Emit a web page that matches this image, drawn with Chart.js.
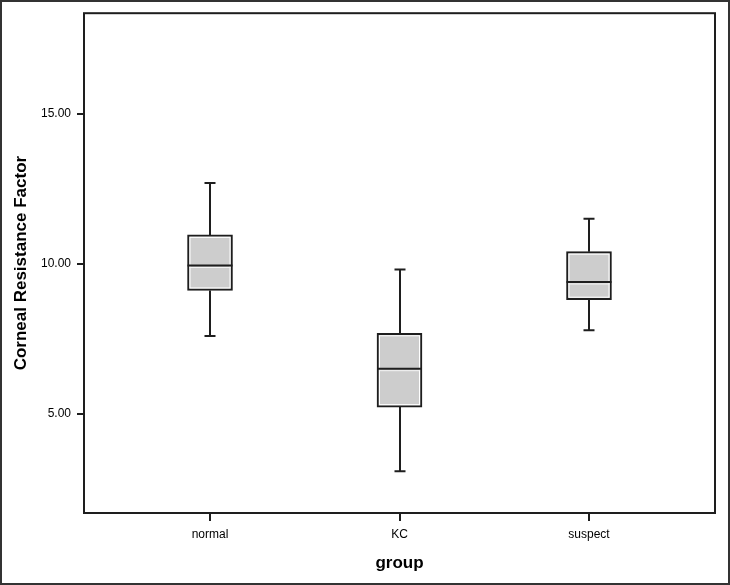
<!DOCTYPE html>
<html><head><meta charset="utf-8">
<script src="https://cdn.jsdelivr.net/npm/chart.js@4/dist/chart.umd.min.js"></script>
<style>html,body{margin:0;padding:0;background:#fff}#wrap{width:730px;height:585px}</style>
</head><body><div id="wrap"><canvas id="c" width="730" height="585"></canvas></div>
<script>
const categories = ['normal', 'KC', 'suspect'];
const whiskerLow = [7.6, 3.09, 7.79];
const q1 = [9.12, 5.23, 8.81];
const median = [9.95, 6.51, 9.40];
const q3 = [10.97, 7.69, 10.41];
const whiskerHigh = [12.7, 9.82, 11.51];
const yTicks = [5, 10, 15];

const LINE = '#1e1e1e';
Chart.defaults.font.family = 'Arial, "Liberation Sans", sans-serif';
Chart.defaults.color = '#000';

const boxPlugin = {
  id: 'boxParts',
  beforeDatasetsDraw(chart) {
    const ctx = chart.ctx, x = chart.scales.x, y = chart.scales.y;
    ctx.save();
    ctx.strokeStyle = LINE; ctx.lineWidth = 2;
    categories.forEach((c, i) => {
      const px = Math.round(x.getPixelForValue(i));
      const yl = y.getPixelForValue(whiskerLow[i]), yh = y.getPixelForValue(whiskerHigh[i]);
      const yq1 = y.getPixelForValue(q1[i]), yq3 = y.getPixelForValue(q3[i]);
      ctx.beginPath();
      ctx.moveTo(px, yh); ctx.lineTo(px, yq3);
      ctx.moveTo(px, yq1); ctx.lineTo(px, yl);
      ctx.moveTo(px - 5.5, yh); ctx.lineTo(px + 5.5, yh);
      ctx.moveTo(px - 5.5, yl); ctx.lineTo(px + 5.5, yl);
      ctx.stroke();
    });
    ctx.restore();
  },
  afterDatasetsDraw(chart) {
    const ctx = chart.ctx, y = chart.scales.y;
    const meta = chart.getDatasetMeta(0);
    ctx.save();
    meta.data.forEach((bar, i) => {
      const p = bar.getProps(['x', 'y', 'base', 'width'], true);
      const left = p.x - p.width / 2, right = p.x + p.width / 2;
      const top = Math.min(p.y, p.base), bottom = Math.max(p.y, p.base);
      ctx.strokeStyle = '#ffffff'; ctx.lineWidth = 1;
      ctx.strokeRect(left + 2.5, top + 2.5, right - left - 5, bottom - top - 5);
      const ym = y.getPixelForValue(median[i]);
      ctx.strokeStyle = '#f4f4f4'; ctx.lineWidth = 1;
      ctx.beginPath(); ctx.moveTo(left + 2, ym + 2); ctx.lineTo(right - 2, ym + 2); ctx.stroke();
      ctx.strokeStyle = LINE; ctx.lineWidth = 2;
      ctx.beginPath(); ctx.moveTo(left, ym); ctx.lineTo(right, ym); ctx.stroke();
    });
    ctx.restore();
  },
  afterDraw(chart) {
    const ctx = chart.ctx, a = chart.chartArea;
    ctx.save();
    ctx.strokeStyle = LINE; ctx.lineWidth = 2;
    ctx.strokeRect(a.left, a.top, a.right - a.left, a.bottom - a.top);
    ctx.strokeStyle = '#333'; ctx.lineWidth = 2;
    ctx.strokeRect(1, 1, chart.width - 2, chart.height - 2);
    ctx.restore();
  }
};

new Chart(document.getElementById('c'), {
  type: 'bar',
  data: {
    datasets: [{
      data: categories.map((c, i) => ({ x: i, y: [q1[i], q3[i]] })),
      backgroundColor: '#cdcdcd',
      borderColor: LINE,
      borderWidth: 2,
      borderSkipped: false,
      barThickness: 45
    }]
  },
  options: {
    responsive: false,
    animation: false,
    layout: { padding: { top: 13, right: 15, bottom: 11, left: 0 } },
    plugins: { legend: { display: false }, tooltip: { enabled: false } },
    scales: {
      x: {
        type: 'linear', min: -0.665, max: 2.665, offset: false,
        afterBuildTicks: s => { s.ticks = categories.map((c, i) => ({ value: i })); },
        afterFit: s => { s.height = 61; },
        ticks: { callback: v => categories[v], color: '#000', font: { size: 12 }, padding: 6, autoSkip: false, maxRotation: 0 },
        grid: { offset: false, drawOnChartArea: false, drawTicks: true, tickLength: 8, tickColor: LINE, lineWidth: 2 },
        border: { display: false },
        title: { display: true, text: 'group', color: '#000', font: { size: 17, weight: 'bold' }, padding: { top: 0, bottom: 0 } }
      },
      y: {
        min: 1.7, max: 18.36,
        afterBuildTicks: s => { s.ticks = yTicks.map(v => ({ value: v })); },
        afterFit: s => { s.width = 84; },
        ticks: { callback: v => Number(v).toFixed(2), color: '#000', font: { size: 12 }, padding: 6 },
        grid: { drawOnChartArea: false, drawTicks: true, tickLength: 7, tickColor: LINE, lineWidth: 2 },
        border: { display: false },
        title: { display: true, text: 'Corneal Resistance Factor', color: '#000', font: { size: 17, weight: 'bold' }, padding: { top: 11, bottom: 0 } }
      }
    }
  },
  plugins: [boxPlugin]
});
</script></body></html>
